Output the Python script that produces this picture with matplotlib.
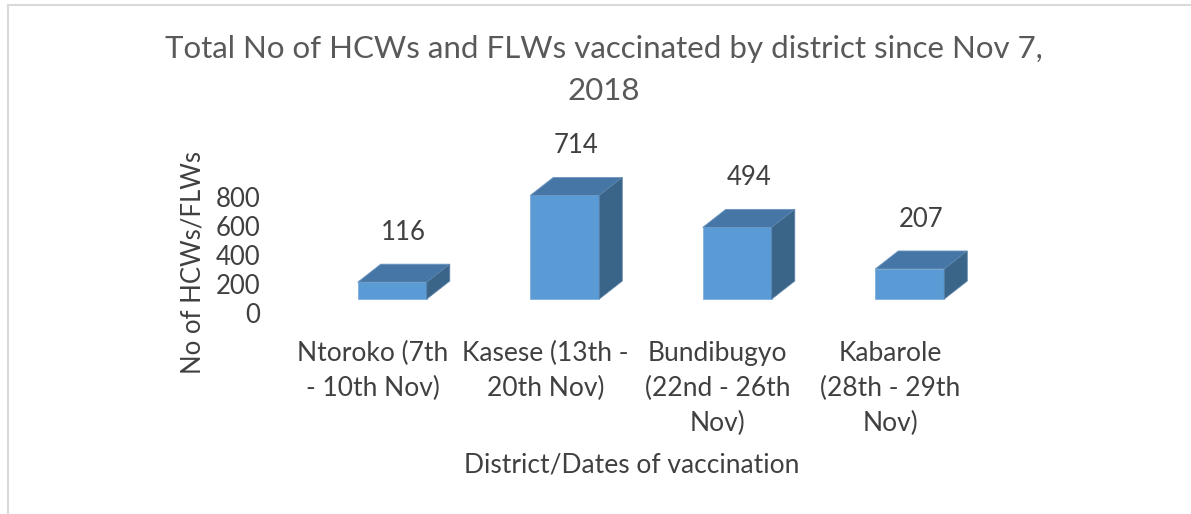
import matplotlib.pyplot as plt
from matplotlib.patches import Polygon, Rectangle

plt.rcParams['font.family'] = ['Lato', 'DejaVu Sans']

districts = ["Ntoroko (7th\n- 10th Nov)", "Kasese (13th -\n20th Nov)",
             "Bundibugyo\n(22nd - 26th\nNov)", "Kabarole\n(28th - 29th\nNov)"]
vaccinated = [116, 714, 494, 207]
yticks = [0, 200, 400, 600, 800]

W, H = 1191, 514
FRONT = '#5B9BD5'
TOP = '#4676A6'
SIDE = '#3A6488'
TXT = '#404040'

fig = plt.figure(figsize=(W / 100, H / 100), dpi=100)

# border line on the left and top like the excel chart frame
fig.add_artist(plt.Line2D([8 / W, 8 / W], [0, 1 - 5 / H], color='#d9d9d9', lw=1.5))
fig.add_artist(plt.Line2D([8 / W, 1], [1 - 5 / H, 1 - 5 / H], color='#d9d9d9', lw=1.5))

# axes for the bars (front base line at y=299px)
ax = fig.add_axes([306 / W, (H - 299) / H, 690 / W, 116 / H])
ax.set_xlim(-0.5, 3.5)
ax.set_ylim(0, 800)
for s in ax.spines.values():
    s.set_visible(False)
ax.set_yticks([])

bw = 0.4
dx = 23 / 172.5       # depth offset in category units
dy = 18 * 800 / 116   # depth offset in value units

for i, v in enumerate(vaccinated):
    x0, x1 = i - bw / 2, i + bw / 2
    ax.add_patch(Rectangle((x0, 0), bw, v, facecolor=FRONT, edgecolor='#7fb0de',
                           lw=0.6, clip_on=False, zorder=3))
    ax.add_patch(Polygon([(x0, v), (x1, v), (x1 + dx, v + dy), (x0 + dx, v + dy)],
                         closed=True, facecolor=TOP, edgecolor='#6b96c2', lw=0.6,
                         clip_on=False, zorder=3))
    ax.add_patch(Polygon([(x1, 0), (x1 + dx, dy), (x1 + dx, v + dy), (x1, v)],
                         closed=True, facecolor=SIDE, edgecolor='#5a82a8', lw=0.6,
                         clip_on=False, zorder=3))
    ax.annotate(str(v), (i + dx / 2, v + dy), xytext=(0, 14), textcoords='offset points',
                ha='center', va='bottom', fontsize=18.5, color=TXT, annotation_clip=False)

ax.set_xticks([i - 0.113 for i in range(len(districts))])
ax.set_xticklabels(districts, fontsize=19, color=TXT, linespacing=1.5, va='top')
ax.tick_params(axis='x', length=0, pad=30)

# value axis (drawn lower than the bars, as in the 3D chart)
ay = fig.add_axes([270 / W, (H - 313) / H, 10 / W, 116 / H])
ay.set_ylim(0, 800)
ay.set_yticks(yticks)
ay.set_yticklabels([str(t) for t in yticks], fontsize=18.5, color=TXT)
ay.tick_params(axis='y', length=0, pad=7)
ay.set_xticks([])
for s in ay.spines.values():
    s.set_visible(False)
ay.patch.set_visible(False)

fig.text(193 / W, 1 - 262 / H, "No of HCWs/FLWs", rotation=90, ha='center', va='center',
         fontsize=18.5, color=TXT)
fig.text(632 / W, 1 - 465 / H, "District/Dates of vaccination", ha='center', va='center',
         fontsize=19, color=TXT)
fig.text(604 / W, 1 - 70 / H, "Total No of HCWs and FLWs vaccinated by district since Nov 7,\n2018",
         ha='center', va='center', fontsize=22.5, color='#595959', linespacing=1.6)

fig.savefig('out.png', dpi=100)
